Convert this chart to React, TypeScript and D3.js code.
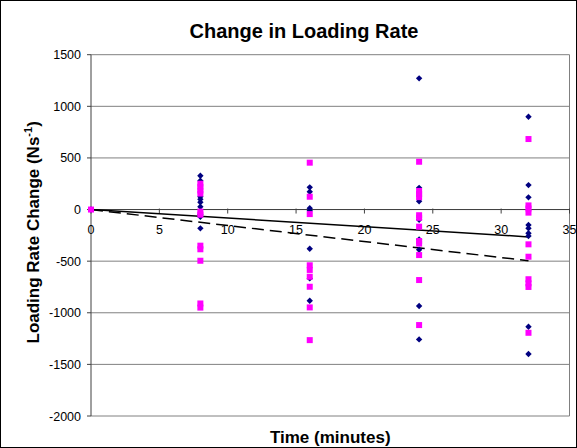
import React, { useEffect, useRef } from 'react';
import * as d3 from 'd3';

// times (minutes) for each measurement column
const blueTimes = [0, 8, 8, 8, 8, 8, 8, 8, 8, 8, 16, 16, 16, 16, 16, 16, 16, 24, 24, 24, 24, 24, 24, 24, 24, 32, 32, 32, 32, 32, 32, 32, 32, 32];
const blueValues = [0, 328, 279, 124, 99, 70, 27, -47, -70, -182, 215, 172, 12, -12, -380, -667, -884, 1271, 210, 80, -100, -290, -390, -935, -1258, 899, 237, 118, -150, -182, -230, -257, -1135, -1400];

const pinkTimes = [0, 8, 8, 8, 8, 8, 8, 8, 8, 8, 8, 8, 16, 16, 16, 16, 16, 16, 16, 16, 16, 24, 24, 24, 24, 24, 24, 24, 24, 24, 24, 24, 24, 32, 32, 32, 32, 32, 32, 32, 32, 32, 32];
const pinkValues = [0, 250, 220, 185, 155, -20, -50, -350, -385, -496, -910, -950, 454, 124, -44, -540, -585, -651, -748, -948, -1265, 463, 180, 150, 120, -55, -80, -166, -305, -330, -441, -683, -1119, 683, 40, 10, -30, -337, -457, -675, -715, -750, -1194];

// trend lines (start and end)
const trendTimes = [0, 32];
const blueTrend = [0, -265];
const pinkTrend = [0, -496];

const xTicks = [0, 5, 10, 15, 20, 25, 30, 35];
const yTicks = [-2000, -1500, -1000, -500, 0, 500, 1000, 1500];

const W = 577;
const H = 448;
const FONT = 'Arial, "Liberation Sans", sans-serif';

const App = () => {
  const svgRef = useRef(null);

  useEffect(() => {
    const svg = d3.select(svgRef.current);
    svg.selectAll('*').remove();

    const left = 91, right = 569.5, top = 54.7, bottom = 416;
    const x = d3.scaleLinear().domain([0, 35]).range([left, right]);
    const y = d3.scaleLinear().domain([-2000, 1500]).range([bottom, top]);

    svg.append('rect')
      .attr('x', 0.5).attr('y', 0.5)
      .attr('width', W - 1).attr('height', H - 1)
      .attr('fill', '#fff').attr('stroke', '#000');

    // gridlines
    svg.append('g')
      .selectAll('line')
      .data(yTicks)
      .enter()
      .append('line')
      .attr('x1', left).attr('x2', right)
      .attr('y1', (d) => y(d)).attr('y2', (d) => y(d))
      .attr('stroke', '#808080').attr('stroke-width', 1);

    // right border of plot area
    svg.append('line')
      .attr('x1', right).attr('x2', right)
      .attr('y1', top).attr('y2', bottom)
      .attr('stroke', '#808080');

    // y axis
    svg.append('line')
      .attr('x1', left).attr('x2', left)
      .attr('y1', top).attr('y2', bottom)
      .attr('stroke', '#404040');
    const yg = svg.append('g');
    yg.selectAll('line')
      .data(yTicks)
      .enter()
      .append('line')
      .attr('x1', left - 4).attr('x2', left)
      .attr('y1', (d) => y(d)).attr('y2', (d) => y(d))
      .attr('stroke', '#404040');
    yg.selectAll('text')
      .data(yTicks)
      .enter()
      .append('text')
      .attr('x', left - 10)
      .attr('y', (d) => y(d) + 4.5)
      .attr('text-anchor', 'end')
      .style('font-family', FONT)
      .style('font-size', '12.5px')
      .text((d) => d);

    // x axis at y = 0
    const y0 = y(0);
    svg.append('line')
      .attr('x1', left).attr('x2', right)
      .attr('y1', y0).attr('y2', y0)
      .attr('stroke', '#404040');
    const xg = svg.append('g');
    xg.selectAll('line')
      .data(xTicks)
      .enter()
      .append('line')
      .attr('x1', (d) => x(d)).attr('x2', (d) => x(d))
      .attr('y1', y0 - 1).attr('y2', y0 + 4)
      .attr('stroke', '#404040');
    xg.selectAll('text')
      .data(xTicks)
      .enter()
      .append('text')
      .attr('x', (d) => x(d))
      .attr('y', y0 + 24)
      .attr('text-anchor', 'middle')
      .style('font-family', FONT)
      .style('font-size', '12.5px')
      .text((d) => d);

    // trend lines
    const line = d3.line().x((d) => x(d[0])).y((d) => y(d[1]));
    svg.append('path')
      .attr('d', line(trendTimes.map((t, i) => [t, blueTrend[i]])))
      .attr('fill', 'none').attr('stroke', '#000').attr('stroke-width', 1.5);
    svg.append('path')
      .attr('d', line(trendTimes.map((t, i) => [t, pinkTrend[i]])))
      .attr('fill', 'none').attr('stroke', '#000').attr('stroke-width', 1.5)
      .attr('stroke-dasharray', '12,6');

    // blue diamonds
    const diamond = d3.symbol().type(d3.symbolDiamond2).size(26);
    svg.append('g')
      .selectAll('path')
      .data(blueTimes.map((t, i) => [t, blueValues[i]]))
      .enter()
      .append('path')
      .attr('transform', (d) => `translate(${x(d[0])},${y(d[1])})`)
      .attr('d', diamond)
      .attr('fill', '#000080');

    // magenta squares
    svg.append('g')
      .selectAll('rect')
      .data(pinkTimes.map((t, i) => [t, pinkValues[i]]))
      .enter()
      .append('rect')
      .attr('x', (d) => x(d[0]) - 3)
      .attr('y', (d) => y(d[1]) - 3)
      .attr('width', 6).attr('height', 6)
      .attr('fill', '#FF00FF');

    // titles
    svg.append('text')
      .attr('x', 304).attr('y', 38)
      .attr('text-anchor', 'middle')
      .style('font-family', FONT)
      .style('font-size', '20px')
      .style('font-weight', 'bold')
      .text('Change in Loading Rate');

    svg.append('text')
      .attr('x', (left + right) / 2).attr('y', 443)
      .attr('text-anchor', 'middle')
      .style('font-family', FONT)
      .style('font-size', '17px')
      .style('font-weight', 'bold')
      .text('Time (minutes)');

    const yl = svg.append('text')
      .attr('transform', `translate(39,${(top + bottom) / 2 - 3}) rotate(-90)`)
      .attr('text-anchor', 'middle')
      .style('font-family', FONT)
      .style('font-size', '17px')
      .style('font-weight', 'bold');
    yl.append('tspan').text('Loading Rate Change (Ns');
    yl.append('tspan').attr('dy', -7).style('font-size', '11px').text('-1');
    yl.append('tspan').attr('dy', 7).text(')');
  }, []);

  return (
    <svg ref={svgRef} width={W} height={H} style={{ position: 'absolute', left: 0, top: 0 }} />
  );
};

export default App;
